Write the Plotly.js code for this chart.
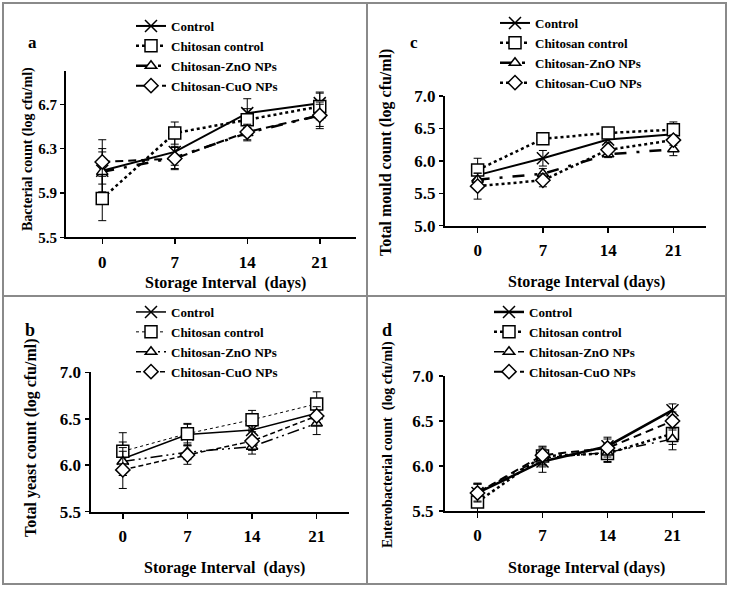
<!DOCTYPE html>
<html><head><meta charset="utf-8">
<script src="https://cdn.plot.ly/plotly-3.0.1.min.js"></script>
<style>html,body{margin:0;padding:0;background:#fff}#chart{width:732px;height:591px}</style>
</head><body><div id="chart"></div>
<script>
// ---- data ----
const days = ['0', '7', '14', '21'];
const seriesNames = ['Control', 'Chitosan control', 'Chitosan-ZnO NPs', 'Chitosan-CuO NPs'];

// panel a: Bacterial count
const aControl  = [6.10, 6.27, 6.62, 6.71];
const aChitosan = [5.85, 6.44, 6.56, 6.68];
const aZnO      = [6.09, 6.22, 6.44, 6.60];
const aCuO      = [6.18, 6.21, 6.45, 6.60];
const aControlErr  = [0.20, 0.12, 0.13, 0.10];
const aChitosanErr = [0.20, 0.10, 0.10, 0.12];
const aZnOErr      = [0.18, 0.10, 0.07, 0.12];
const aCuOErr      = [0.20, 0.10, 0.07, 0.10];

// panel c: Total mould count
const cControl  = [5.78, 6.04, 6.33, 6.41];
const cChitosan = [5.86, 6.34, 6.43, 6.48];
const cZnO      = [5.71, 5.80, 6.10, 6.18];
const cCuO      = [5.61, 5.70, 6.17, 6.32];
const cControlErr  = [0.10, 0.12, 0.05, 0.08];
const cChitosanErr = [0.18, 0.05, 0.04, 0.12];
const cZnOErr      = [0.10, 0.08, 0.05, 0.10];
const cCuOErr      = [0.20, 0.10, 0.05, 0.08];

// panel b: Total yeast count
const bControl  = [6.07, 6.33, 6.38, 6.56];
const bChitosan = [6.15, 6.34, 6.49, 6.66];
const bZnO      = [6.04, 6.14, 6.20, 6.45];
const bCuO      = [5.95, 6.11, 6.26, 6.53];
const bControlErr  = [0.18, 0.12, 0.10, 0.10];
const bChitosanErr = [0.20, 0.10, 0.10, 0.13];
const bZnOErr      = [0.15, 0.08, 0.08, 0.12];
const bCuOErr      = [0.20, 0.10, 0.10, 0.10];

// panel d: Enterobacterial count
const dControl  = [5.70, 6.05, 6.22, 6.62];
const dChitosan = [5.60, 6.11, 6.14, 6.36];
const dZnO      = [5.71, 6.09, 6.15, 6.30];
const dCuO      = [5.70, 6.12, 6.20, 6.50];
const dControlErr  = [0.10, 0.12, 0.10, 0.07];
const dChitosanErr = [0.20, 0.10, 0.10, 0.12];
const dZnOErr      = [0.10, 0.10, 0.10, 0.12];
const dCuOErr      = [0.10, 0.10, 0.10, 0.10];

// ---- styles ----
const FONT = 'Liberation Serif, Times New Roman, serif';
const symbols = ['x-thin-open', 'square', 'triangle-up', 'diamond'];
const sizes = [12, 12, 10, 11];
const fills = ['black', 'white', 'white', 'white'];

const panels = [
  {key:'a', xa:'x',  ya:'y',  legend:'legend',
   vals:[aControl,aChitosan,aZnO,aCuO], errs:[aControlErr,aChitosanErr,aZnOErr,aCuOErr],
   widths:[2,2.5,2.5,2], dashes:['solid','dot','12px,10px,3px,10px','8px,5px']},
  {key:'c', xa:'x2', ya:'y2', legend:'legend2',
   vals:[cControl,cChitosan,cZnO,cCuO], errs:[cControlErr,cChitosanErr,cZnOErr,cCuOErr],
   widths:[2,2.5,2.5,2.5], dashes:['solid','dot','12px,10px,3px,10px','dot']},
  {key:'b', xa:'x3', ya:'y3', legend:'legend3',
   vals:[bControl,bChitosan,bZnO,bCuO], errs:[bControlErr,bChitosanErr,bZnOErr,bCuOErr],
   widths:[1.5,1,1.5,1.5], dashes:['solid','dot','12px,4px,2px,4px,2px,4px','5px,3px']},
  {key:'d', xa:'x4', ya:'y4', legend:'legend4',
   vals:[dControl,dChitosan,dZnO,dCuO], errs:[dControlErr,dChitosanErr,dZnOErr,dCuOErr],
   widths:[2.5,2.5,1.5,2], dashes:['solid','dot','10px,6px,2px,6px','8px,5px']}
];

const traces = [];
panels.forEach(p => {
  for (let i = 0; i < 4; i++) {
    traces.push({
      type:'scatter', mode:'lines+markers',
      x: days, y: p.vals[i], name: seriesNames[i],
      xaxis: p.xa, yaxis: p.ya, legend: p.legend,
      line:{color:'black', width:p.widths[i], dash:p.dashes[i]},
      marker:{symbol:symbols[i], size:sizes[i], color:fills[i], line:{color:'black', width:1.5}},
      error_y:{type:'data', array:p.errs[i], visible:true, color:'black', thickness:1, width:4},
      cliponaxis:false
    });
  }
});

function xax(domain, anchor){
  return {domain:domain, anchor:anchor, type:'category', range:[-0.5,3.5], showline:true, linecolor:'black', linewidth:2,
    ticks:'outside', ticklen:5, tickcolor:'black', tickwidth:1.5, showgrid:false, zeroline:false,
    tickfont:{family:FONT, size:17, color:'black', weight:'bold'}, ticklabelstandoff:3, fixedrange:true};
}
function yax(domain, anchor, range, dtick, size, standoff){
  return {domain:domain, anchor:anchor, range:range, tick0:range[0], dtick:dtick, showline:true, linecolor:'black', linewidth:2,
    ticks:'outside', ticklen:4, tickcolor:'black', tickwidth:1.5, showgrid:false, zeroline:false,
    tickformat:'.1f', tickfont:{family:FONT, size:size, color:'black', weight:'bold'},
    ticklabelstandoff:standoff, fixedrange:true};
}
function leg(x, y, gap){
  return {x:x, y:y, xanchor:'left', yanchor:'top', bgcolor:'rgba(0,0,0,0)', borderwidth:0,
    font:{family:FONT, size:13, color:'black', weight:'bold'}, tracegroupgap:gap, itemwidth:30};
}
const W = 732, H = 591;
const px = v => v / W, py = v => 1 - v / H;

function ann(text, x, y, size, angle){
  return {text:text, x:px(x), y:py(y), xref:'paper', yref:'paper', showarrow:false,
    textangle:angle||0, font:{family:FONT, size:size, color:'black', weight:'bold'},
    xanchor:'center', yanchor:'middle'};
}

const grey = {color:'#8a8a8a', width:2};
const layout = {
  width:W, height:H, margin:{l:0, r:0, t:0, b:0}, paper_bgcolor:'white', plot_bgcolor:'rgba(0,0,0,0)',
  showlegend:true,
  xaxis:  xax([px(66), px(356)], 'y'),
  yaxis:  yax([py(237.3), py(71)], 'x', [5.5, 7.0], 0.4, 15, 0),
  xaxis2: xax([px(445), px(706)], 'y2'),
  yaxis2: yax([py(225.7), py(96)], 'x2', [5.0, 7.0], 0.5, 17, 0),
  xaxis3: xax([px(90.5), px(349)], 'y3'),
  yaxis3: yax([py(511.7), py(372.3)], 'x3', [5.5, 7.0], 0.5, 17, 0),
  xaxis4: xax([px(445), px(705)], 'y4'),
  yaxis4: yax([py(511), py(376)], 'x4', [5.5, 7.0], 0.5, 17, 2),
  legend:  leg(px(131), py(11), 0),
  legend2: leg(px(495), py(8), 0),
  legend3: leg(px(131), py(297), 0),
  legend4: leg(px(489), py(297), 0),
  shapes:[
    {type:'rect', xref:'paper', yref:'paper', x0:px(3), x1:px(726), y0:py(3), y1:py(584), line:grey, fillcolor:'rgba(0,0,0,0)'},
    {type:'line', xref:'paper', yref:'paper', x0:px(367), x1:px(367), y0:py(3), y1:py(584), line:grey},
    {type:'line', xref:'paper', yref:'paper', x0:px(3), x1:px(726), y0:py(296), y1:py(296), line:grey}
  ],
  annotations:[
    ann('a', 32, 43, 17), ann('c', 414, 43, 17), ann('b', 30, 330, 18), ann('d', 387, 330, 18),
    ann('Storage Interval  (days)', 225, 283, 16), ann('Storage Interval (days)', 586, 282, 16),
    ann('Storage Interval  (days)', 224, 568, 16), ann('Storage Interval (days)', 586, 568, 16),
    ann('Bacterial count (log cfu/ml)', 28, 149, 14, -90),
    ann('Total mould count (log cfu/ml)', 386, 153, 16, -90),
    ann('Total yeast count (log cfu/ml)', 31, 438, 16, -90),
    ann('Enterobacterial count  (log cfu/ml)', 388, 445, 14, -90)
  ]
};
Plotly.newPlot('chart', traces, layout, {displayModeBar:false, staticPlot:true});
</script></body></html>
